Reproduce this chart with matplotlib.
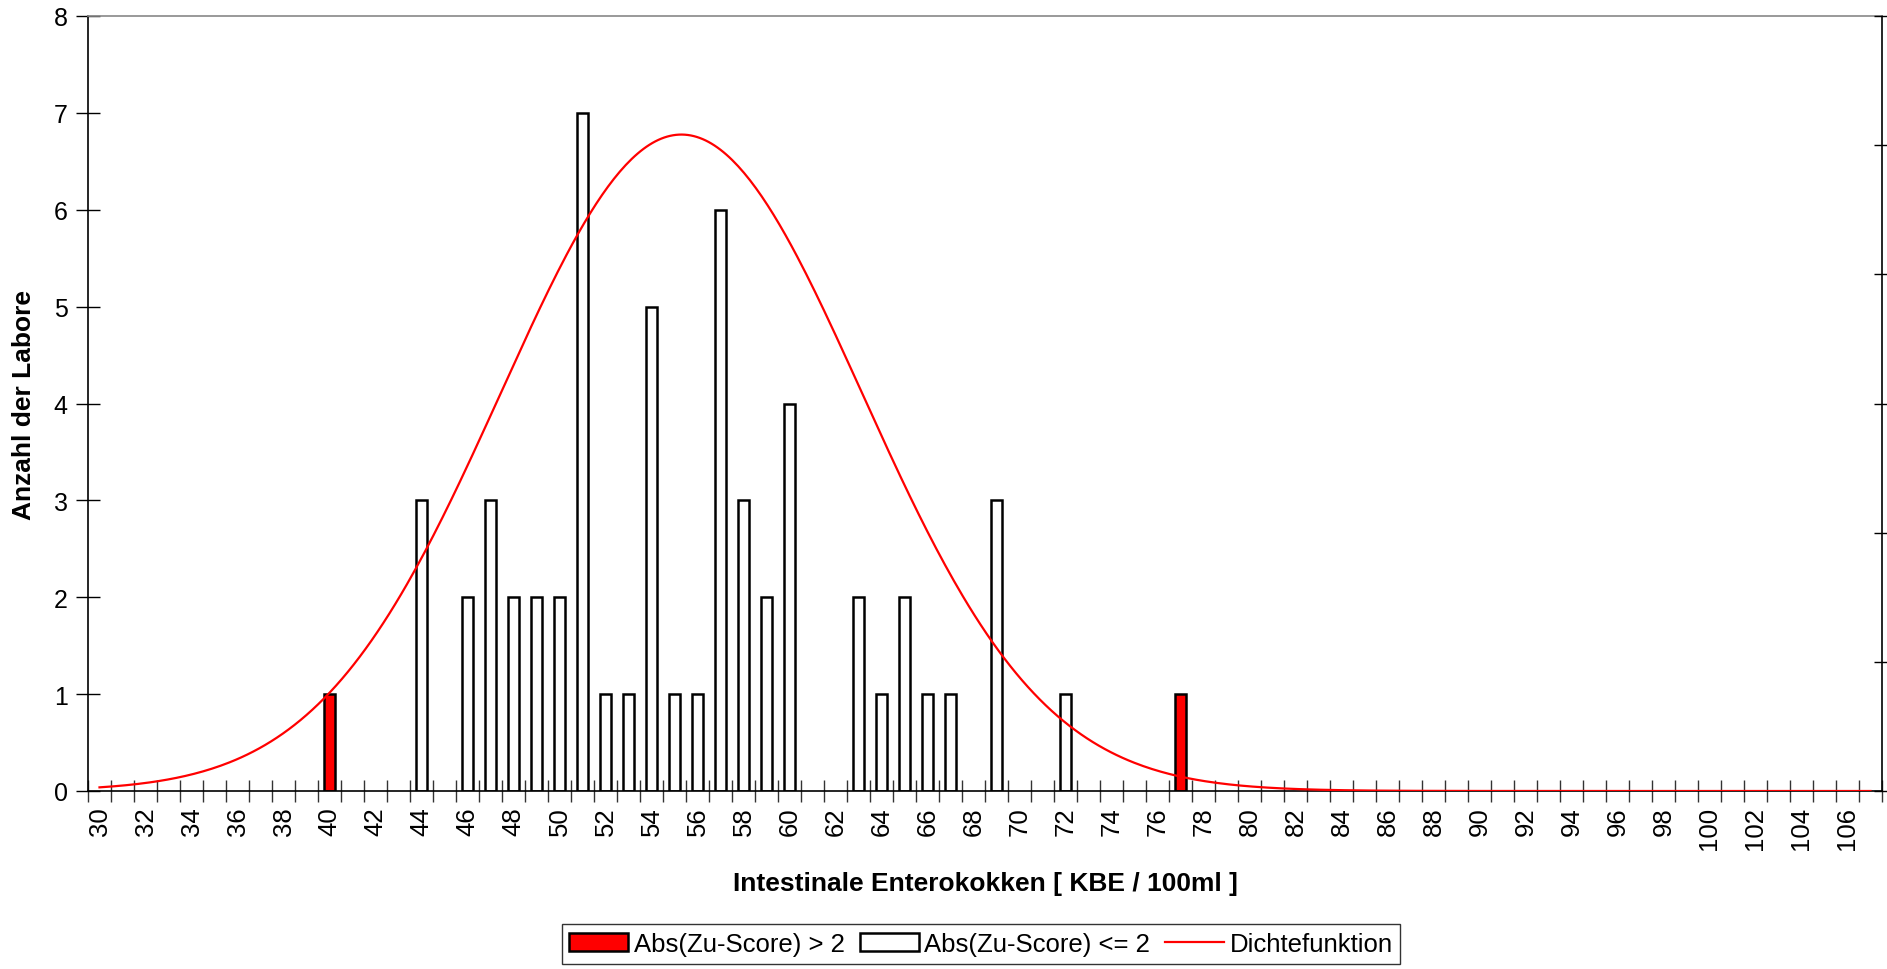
import numpy as np
import matplotlib.pyplot as plt
from matplotlib.patches import Patch
from matplotlib.lines import Line2D

plt.rcParams['font.family'] = ['Liberation Sans', 'DejaVu Sans']

# Ergebnisse der Labore (KBE / 100ml) und Anzahl der Labore
lab_values = [40, 44, 46, 47, 48, 49, 50, 51, 52, 53, 54, 55, 56, 57, 58, 59, 60,
              63, 64, 65, 66, 67, 69, 72, 77]
lab_counts = [1, 3, 2, 3, 2, 2, 2, 7, 1, 1, 5, 1, 1, 6, 3, 2, 4,
              2, 1, 2, 1, 1, 3, 1, 1]
outliers = [40, 77]          # Abs(Zu-Score) > 2

x_min, x_max = 30, 107
# Normalverteilung (Dichtefunktion)
mean_value = 55.3
sd_value = 7.85

fig = plt.figure(figsize=(18.87, 9.70), dpi=100)
ax = fig.add_axes([88 / 1887, 1 - 792 / 970, (1882 - 88) / 1887, (792 - 17) / 970])

cats = np.arange(x_min, x_max + 1)
vals = np.array(lab_values)
cnts = np.array(lab_counts)
is_out = np.isin(vals, outliers)

ax.bar(vals[is_out], cnts[is_out], width=0.5, color='red', edgecolor='black', linewidth=1.8, zorder=2)
ax.bar(vals[~is_out], cnts[~is_out], width=0.5, color='white', edgecolor='black', linewidth=1.8, zorder=2)

ax.set_xlim(x_min - 0.5, x_max + 0.5)
ax.set_ylim(0, 8)
ax.set_yticks(range(0, 9))
ax.tick_params(axis='y', direction='inout', length=17, labelsize=18, width=1, pad=6)

ax.set_xticks(np.arange(x_min - 0.5, x_max + 1, 1.0))
ax.set_xticklabels([])
ax.tick_params(axis='x', which='major', direction='inout', length=16, width=1, color='#333333')
ax.set_xticks(cats[::2], minor=True)
ax.set_xticklabels([str(c) for c in cats[::2]], minor=True, rotation=90, fontsize=18.5)
ax.tick_params(axis='x', which='minor', length=0, pad=11)

for s in ax.spines.values():
    s.set_linewidth(1.2)
ax.spines['top'].set_color('#888888')

# zweite Achse fuer die Dichte
ax2 = ax.twinx()
xs = np.linspace(x_min, x_max, 600)
dens = np.exp(-0.5 * ((xs - mean_value) / sd_value) ** 2) / (sd_value * np.sqrt(2 * np.pi))
ax2.plot(xs, dens, color='red', linewidth=1.6, zorder=3)
ax2.set_ylim(0, 0.06)
ax2.set_yticks(np.arange(0, 0.061, 0.01))
ax2.set_yticklabels([])
ax2.tick_params(axis='y', direction='inout', length=12, width=1)
for s in ax2.spines.values():
    s.set_visible(False)

fig.text(24 / 1887, 1 - 405 / 970, 'Anzahl der Labore', rotation=90, fontsize=19,
         fontweight='bold', ha='center', va='center')
fig.text(985 / 1887, 1 - 884 / 970, 'Intestinale Enterokokken [ KBE / 100ml ]', fontsize=19,
         fontweight='bold', ha='center', va='center')

handles = [Patch(facecolor='red', edgecolor='black', linewidth=1.8),
           Patch(facecolor='white', edgecolor='black', linewidth=1.8),
           Line2D([0], [0], color='red', linewidth=1.6)]
labels = ['Abs(Zu-Score) > 2', 'Abs(Zu-Score) <= 2', 'Dichtefunktion']
leg = fig.legend(handles, labels, loc='center', bbox_to_anchor=(981 / 1887, 1 - 945 / 970),
                 ncol=3, fontsize=18.5, frameon=True, fancybox=False, edgecolor='black',
                 handlelength=2.3, handletextpad=0.2, columnspacing=0.6, borderpad=0.3,
                 borderaxespad=0)
leg.get_frame().set_linewidth(1.0)

fig.savefig('out.png', dpi=100, facecolor='white')
